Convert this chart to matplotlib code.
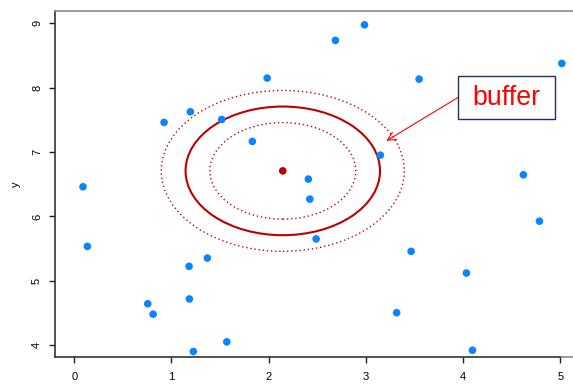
import matplotlib
matplotlib.use("Agg")
import matplotlib.pyplot as plt
from matplotlib.patches import Circle, Rectangle

plt.rcParams['font.family'] = ['Liberation Sans', 'DejaVu Sans']

# points
xs = [0.09, 0.135, 0.924, 1.194, 1.517, 1.832, 1.984, 2.686, 2.985, 3.547,
      5.015, 3.149, 2.408, 2.423, 2.488, 1.181, 1.369, 3.465, 4.034, 4.62,
      4.785, 0.756, 0.811, 1.184, 1.225, 1.569, 3.316, 4.096]
ys = [6.461, 5.534, 7.461, 7.626, 7.507, 7.166, 8.15, 8.736, 8.978, 8.134,
      8.378, 6.952, 6.58, 6.269, 5.65, 5.224, 5.352, 5.457, 5.12, 6.647,
      5.926, 4.642, 4.48, 4.717, 3.9, 4.05, 4.503, 3.92]

center = (2.145, 6.708)
radius = 1.0
buffer_radii = [0.75, 1.25]

# label box (data units) and arrow target
box_x0, box_x1 = 3.946, 4.943
box_y0, box_y1 = 7.516, 8.180
arrow_tip = (3.21, 7.174)

xticks = [0, 1, 2, 3, 4, 5]
yticks = [4, 5, 6, 7, 8, 9]

fig = plt.figure(figsize=(5.73, 3.86), dpi=100)
ax = fig.add_axes([0.096, 0.076, 0.904, 0.896])

ax.scatter(xs, ys, s=30, color='#0a84ff', edgecolors='none', zorder=3)
ax.scatter([center[0]], [center[1]], s=30, color='#b80000',
           edgecolors='none', zorder=3)

ax.add_patch(Circle(center, radius, fill=False, edgecolor='#bb0000', lw=1.5))
for r in buffer_radii:
    ax.add_patch(Circle(center, r, fill=False, edgecolor='#cc0000',
                        lw=1.0, linestyle=(0, (1, 2))))

# the label
ax.add_patch(Rectangle((box_x0, box_y0), box_x1 - box_x0, box_y1 - box_y0,
                       fc='white', ec='#1f2d6b', lw=1.0, zorder=4))
mid_y = (box_y0 + box_y1) / 2
ax.text((box_x0 + box_x1) / 2, mid_y, 'buffer', color='red', fontsize=19.3,
        ha='center', va='center', zorder=5)
ax.annotate('', xy=arrow_tip, xytext=(box_x0, mid_y),
            arrowprops=dict(arrowstyle='->', color='red', lw=0.8,
                            shrinkA=0, shrinkB=0, mutation_scale=15))

ax.set_xlim(-0.198, 5.13)
ax.set_ylim(3.82, 9.196)
ax.set_xticks(xticks)
ax.set_yticks(yticks)
ax.tick_params(axis='both', labelsize=8, length=4.3, width=1.0, color='#222222')
ax.tick_params(axis='x', pad=7)
ax.tick_params(axis='y', pad=5)
for lab in ax.get_yticklabels():
    lab.set_rotation(90)
    lab.set_va('center')
ax.set_ylabel('y', fontsize=8, labelpad=8)

ax.spines['right'].set_visible(False)
ax.spines['top'].set_color('#888888')
ax.spines['top'].set_linewidth(1.2)
ax.spines['left'].set_color('#333333')
ax.spines['left'].set_linewidth(1.2)
ax.spines['bottom'].set_color('#333333')
ax.spines['bottom'].set_linewidth(1.2)
ax.spines['bottom'].set_bounds(-0.198, 5)
ax.plot([5, 5.13], [3.82, 3.82], color='#888888', lw=1.2, clip_on=False)

fig.savefig('out.png', dpi=100)
